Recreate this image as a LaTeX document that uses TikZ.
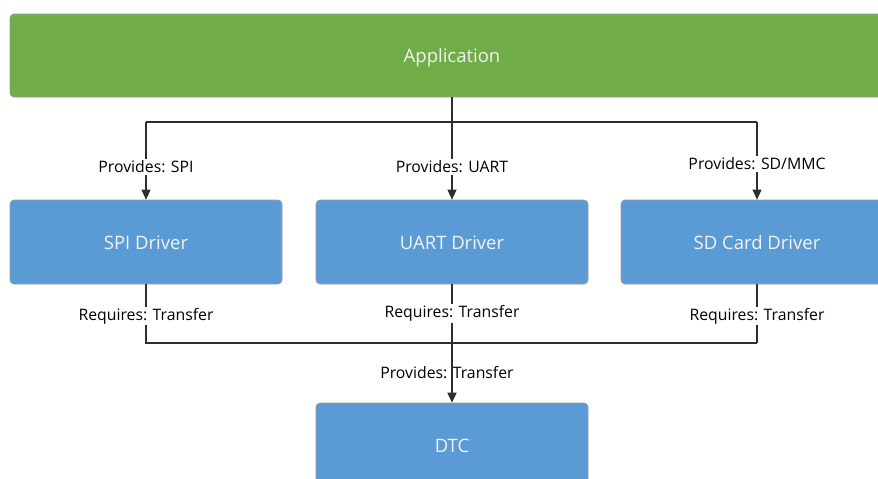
\documentclass[tikz,border=0pt]{standalone}
\usepackage{fontspec}
\setmainfont{Open Sans}
\usetikzlibrary{arrows.meta}
\definecolor{appgreen}{HTML}{70AD47}
\definecolor{drvblue}{HTML}{5B9BD5}
\definecolor{edgegray}{HTML}{9A9A9A}
\definecolor{linegray}{HTML}{2E2E2E}
\definecolor{boxtext}{HTML}{F2F2F2}
\begin{document}
\begin{tikzpicture}[x=1pt,y=-1pt,
  box/.style={draw=edgegray, line width=0.7pt, rounded corners=4pt, text=boxtext,
    font=\fontsize{18.5}{22}\selectfont, minimum height=84pt, minimum width=272pt, inner sep=0pt,
    text height=14pt, text depth=0pt},
  conn/.style={draw=linegray, line width=1.1pt},
  arr/.style={conn, -{Triangle[width=9pt,length=10pt]}},
  lbl/.style={fill=white, inner sep=1.5pt, text=black, font=\fontsize{15.8}{18}\selectfont},
  lblclear/.style={inner sep=1.5pt, text=black, font=\fontsize{15.8}{18}\selectfont}]
\useasboundingbox (0,0) rectangle (878,479);
\clip (0,0) rectangle (878,479);
\fill[white] (0,0) rectangle (878,479);

\node[box, fill=appgreen, minimum width=884pt, minimum height=83pt] (app) at (452,55.5) {Application};
\node[box, fill=drvblue] (spi) at (146,242) {SPI Driver};
\node[box, fill=drvblue] (uart) at (452,242) {UART Driver};
\node[box, fill=drvblue] (sd) at (757,242) {SD Card Driver};
\node[box, fill=drvblue] (dtc) at (452,445) {DTC};

\coordinate (tbus) at (452,122);
\coordinate (bbus) at (452,343);
\coordinate (dtcstart) at (452,326);

% Application provides
\draw[conn] (app.south) -- (tbus);
\draw[conn] (spi.north |- tbus) -- (sd.north |- tbus);
\draw[arr] (spi.north |- tbus) -- node[lbl, pos=0.58] {Provides: SPI} (spi.north);
\draw[arr] (tbus) -- node[lbl, pos=0.58] {Provides: UART} (uart.north);
\draw[arr] (sd.north |- tbus) -- node[lbl, pos=0.54] {Provides: SD/MMC} (sd.north);

% Drivers require
\draw[conn] (spi.south) -- node[lbl, pos=0.54] {Requires: Transfer} (spi.south |- bbus) -- (sd.south |- bbus);
\draw[conn] (uart.south) -- node[lbl, pos=0.5] {Requires: Transfer} (bbus);
\draw[conn] (sd.south) -- node[lbl, pos=0.54] {Requires: Transfer} (sd.south |- bbus);

% DTC provides
\node[lblclear] (dtclbl) at (447,373) {Provides: Transfer};
\draw[arr, line width=1.8pt] (dtcstart) -- (dtc.north);
\end{tikzpicture}
\end{document}
